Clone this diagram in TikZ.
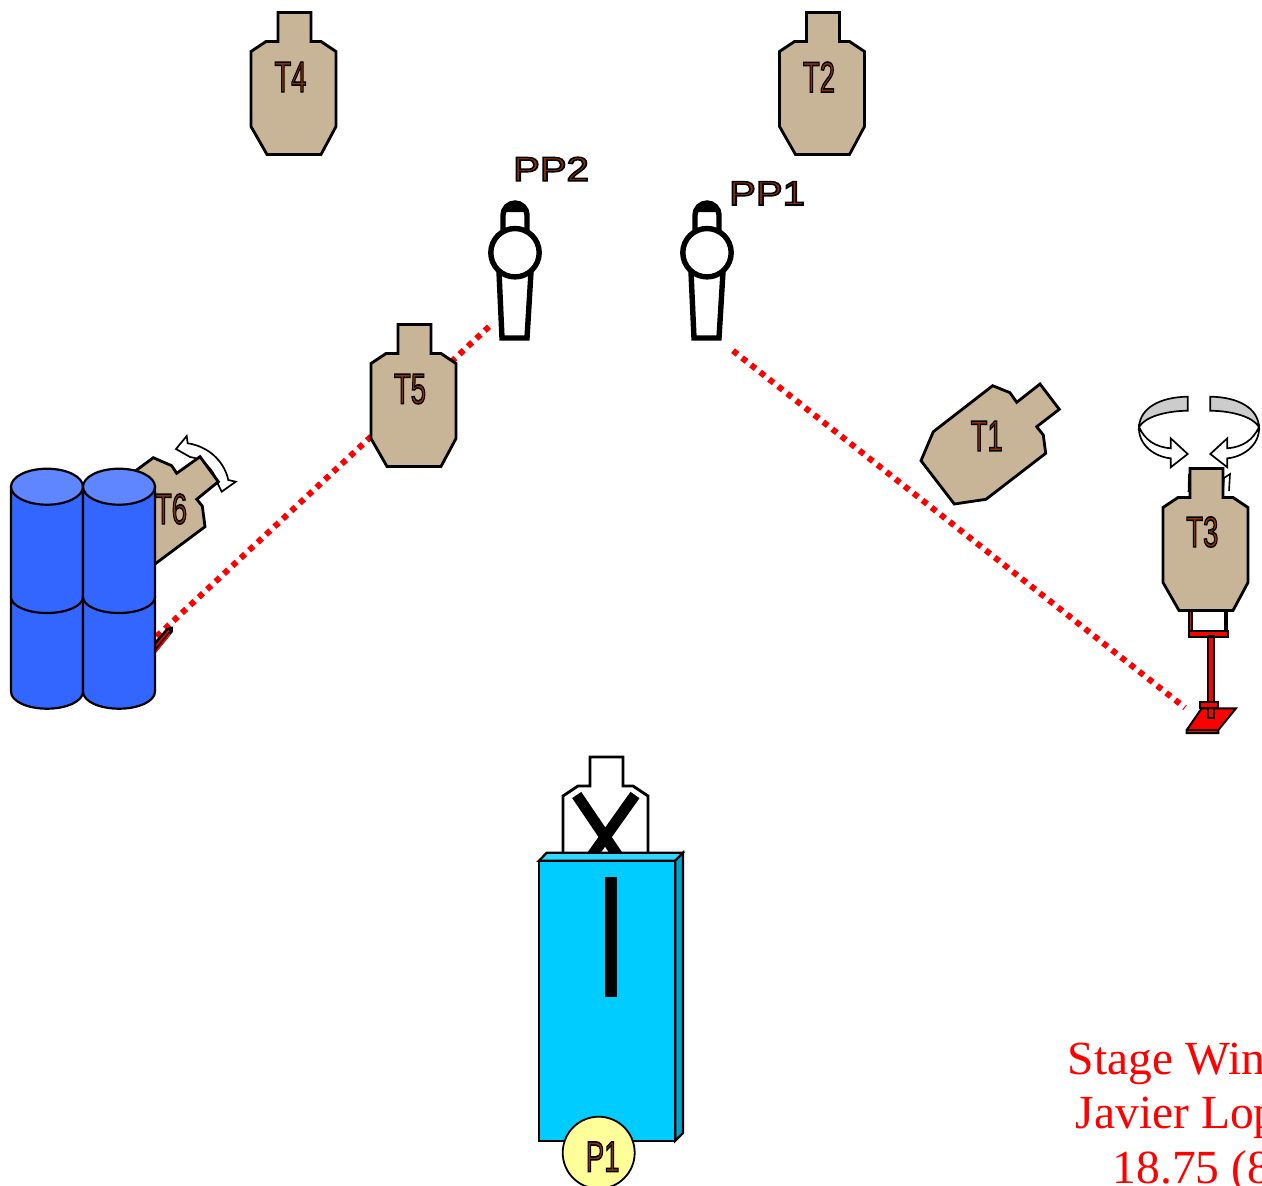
\documentclass[tikz,border=0pt]{standalone}
\usepackage{fontspec}
\usepackage{graphicx}
\setmainfont{Liberation Sans}
\newfontfamily\serifred{Liberation Serif}
\definecolor{tan}{HTML}{C8B496}
\definecolor{lblbrown}{HTML}{8A3200}
\definecolor{barrel}{HTML}{3366FF}
\definecolor{barreltop}{HTML}{5F85FF}
\definecolor{boardfront}{HTML}{00CCFF}
\definecolor{boardtop}{HTML}{33D6FF}
\definecolor{boardside}{HTML}{00A3CC}
\definecolor{pone}{HTML}{FFFF99}
\definecolor{bandgrey}{HTML}{CCCCCC}
\newcommand\outl[1]{\special{pdf:code 2 Tr 1.5 w 0 0 0 RG}#1\special{pdf:code 0 Tr}}
\newcommand\narrowlbl[1]{\scalebox{0.64}[1]{\fontsize{43}{43}\selectfont\color{lblbrown}\outl{#1}}}
\newcommand\widelbl[1]{\scalebox{1.18}[1]{\fontsize{34}{34}\selectfont\color{lblbrown}\outl{#1}}}
% target silhouette with neck's top-left corner at (#1,#2), fill #3
\newcommand\tgtshape[3]{\draw[tgtline,fill=#3,shift={(#1,#2)}] (0,0) -- (33,0) -- (33,29) -- (43,29) -- (58,39) -- (58,114) -- (43,142) -- (-11,142) -- (-27,114) -- (-27,39) -- (-12,29) -- (0,29) -- cycle;}
\newcommand\shooter[1]{\begin{scope}[shift={(#1,0)}]
 \fill[black] (488,215) arc (180:360:12) -- (512,212) -- (488,212) -- cycle;
 \draw[ppline] (488,234) -- (488,215) arc (180:360:12) -- (512,234);
 \draw[ppline,line join=miter] (484,272) -- (487,338) -- (512,338) -- (516,272);
 \draw[ppline,fill=white] (500,252.7) circle (24.2);
\end{scope}}
\newcommand\spinarrow{%
 \draw[arrowline,fill=bandgrey] (1187.7,396.7) .. controls (1160,397) and (1140,408) .. (1139,427) .. controls (1145,417) and (1165,411) .. (1187.7,410.7) -- cycle;
 \draw[arrowline,fill=white] (1139,427) .. controls (1138,445) and (1155,457) .. (1170.7,458.3) -- (1170.7,467.3) -- (1187.7,454) -- (1170.7,438.3) -- (1170.7,448.3) .. controls (1155,447) and (1145,440) .. (1139,427) -- cycle;}
\tikzset{
 tgtline/.style={draw=black,line width=2.8pt,line join=miter},
 ppline/.style={draw=black,line width=5.4pt},
 arrowline/.style={draw=black,line width=1.7pt,line join=miter},
 reddots/.style={draw=red,line width=6pt,dash pattern=on 5.8pt off 5.7pt},
 barrelline/.style={draw=black,line width=2.2pt},
 standline/.style={draw=black,line width=2pt,fill=red,line join=miter},
 winner/.style={anchor=base west,inner sep=0pt,text=red,font=\serifred\fontsize{47.5}{47.5}\selectfont},
}
\begin{document}
\begin{tikzpicture}[x=1pt,y=-1pt]
\path[use as bounding box] (0,0) rectangle (1262,1186);
\clip (0,0) rectangle (1262,1186);
% shooting lanes
\coordinate (laneAstart) at (489,326.7);
\coordinate (laneAend) at (155,638);
\coordinate (laneBstart) at (733,350.7);
\coordinate (laneBend) at (1185,707.7);
\draw[reddots] (laneAstart) -- (laneAend);
\draw[reddots] (laneBstart) -- (laneBend);
% targets
\tgtshape{278}{12.5}{tan}
\node[inner sep=0pt] (T4) at (290.5,77) {\narrowlbl{T4}};
\tgtshape{806.5}{12.5}{tan}
\node[inner sep=0pt] (T2) at (819,77) {\narrowlbl{T2}};
\tgtshape{398}{324.5}{tan}
\node[inner sep=0pt] (T5) at (410,389) {\narrowlbl{T5}};
% T1
\draw[tgtline,fill=tan] (1040,384) -- (1059.3,409.3) -- (1036.7,426.7) -- (1043.3,435) -- (1045.7,453.3) -- (986,499.3) -- (954.3,504) -- (921,460.7) -- (933.3,431.7) -- (992.7,385.7) -- (1010,392.7) -- (1016.7,402.3) -- cycle;
\node[inner sep=0pt] (T1) at (986.7,436) {\narrowlbl{T1}};
% T6 with its swing arrow and base
\draw[arrowline,fill=white] (176,449) -- (186.7,436) -- (187.7,443.3) .. controls (207,446) and (224,460) .. (228.3,480) -- (235.7,481.7) -- (221.7,491.7) -- (216,480) .. controls (214,470) and (202,458) .. (190,457) -- cycle;
\draw[tgtline,fill=tan] (153.3,457.7) -- (171.7,465.7) -- (176.7,473.3) -- (200,456.7) -- (218.3,481.7) -- (196.7,499.3) -- (202.3,506) -- (205,526.7) -- (155,564) -- (130,560) -- (130,475) -- (136.7,470) -- cycle;
\node[inner sep=0pt] (T6) at (171,509) {\narrowlbl{T6}};
\fill[black] (150,647) -- (166.7,628) -- (172.8,626.5) -- (172.8,632) -- (150,660) -- cycle;
\draw[red,line width=1.4pt] (154,648) -- (169,630.5);
\draw[red,line width=1.4pt] (154,654) -- (170,634);
% barrels
\foreach \bx/\bn in {11/a,83/b}{
 \draw[barrelline,fill=barrel] (\bx,597) -- (\bx,691.7) arc (180:0:36 and 17) -- (\bx+72,597) -- cycle;
 \draw[barrelline,fill=barrel] (\bx,486.7) -- (\bx,597) arc (180:0:36 and 16) -- (\bx+72,486.7) -- cycle;
 \draw[barrelline,fill=barreltop] (\bx+36,486.7) ellipse (36 and 18);
}
% T3 stand and target
\spinarrow
\begin{scope}[xscale=-1,shift={(-2398,0)}]\spinarrow\end{scope}
\draw[black,line width=1.6pt,fill=white] (1223,492) -- (1224,478) -- (1230,474) -- (1229,491);
\draw[black,line width=1.6pt] (1189,474) -- (1188.5,492);
\draw[standline] (1189.3,610) rectangle (1192,631);
\draw[standline] (1224.6,610) rectangle (1227.3,631);
\draw[standline] (1189,630.5) rectangle (1228,636.5);
\draw[standline,line width=2.3pt] (1208,636.5) rectangle (1214,701.7);
\draw[standline] (1186.7,730) -- (1201.7,708.3) -- (1236,708.3) -- (1218.3,730) -- (1218.3,733) -- (1186.7,733) -- cycle;
\draw[black,line width=1.4pt] (1186.7,730) -- (1218.3,730);
\draw[standline] (1208.3,708) rectangle (1213.7,717.5);
\draw[standline] (1200,702) rectangle (1218,707.5);
\tgtshape{1190}{468.5}{tan}
\node[inner sep=0pt] (T3) at (1202.3,532) {\narrowlbl{T3}};
% no-shoot and fault line board
\tgtshape{590}{757}{white}
\draw[black,line width=11pt] (576.7,795) -- (618,856);
\draw[black,line width=11pt] (635,795) -- (591.7,856);
\draw[barrelline,fill=boardtop] (539,860.7) -- (546.7,852.7) -- (683,852.7) -- (675.3,860.7) -- cycle;
\draw[barrelline,fill=boardside] (675.3,860.7) -- (683,852.7) -- (683,1133) -- (675.3,1140.7) -- cycle;
\draw[barrelline,fill=boardfront] (539,860.7) rectangle (675.3,1140.7);
\fill[black] (605,876.7) rectangle (617,996.7);
\draw[black,line width=1.8pt,fill=pone] (598.7,1152.7) circle (36);
\node[inner sep=0pt] (P1) at (602.7,1156.7) {\narrowlbl{P1}};
% shooting positions
\shooter{15}
\shooter{207}
\node[inner sep=0pt] (PP2) at (551,169) {\widelbl{PP2}};
\node[inner sep=0pt] (PP1) at (767,193.3) {\widelbl{PP1}};
% result text
\node[winner] (win1) at (1067.5,1074) {Stage Win};
\node[winner] (win2) at (1075.5,1128.7) {Javier Lop};
\node[winner] (win3) at (1112.5,1183.3) {18.75 (8};
\end{tikzpicture}
\end{document}
